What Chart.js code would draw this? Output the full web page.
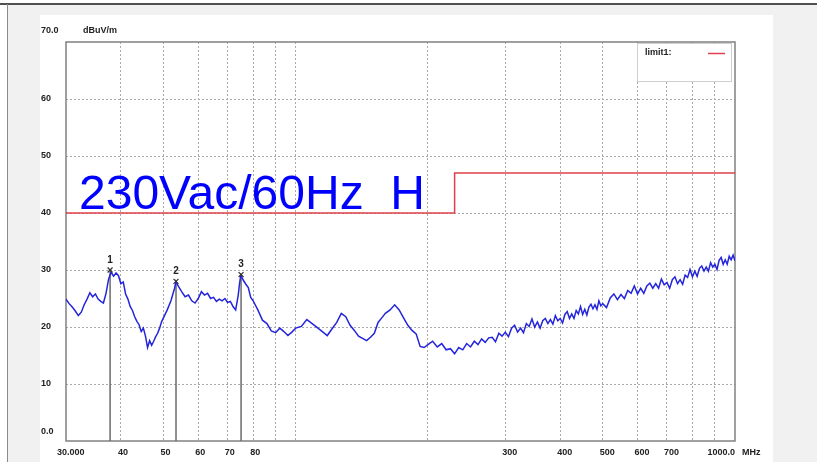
<!DOCTYPE html>
<html>
<head>
<meta charset="utf-8">
<script src="https://cdn.jsdelivr.net/npm/chart.js@4"></script>
<style>
  html, body { margin: 0; padding: 0; background: #fff; }
  #wrap { width: 817px; height: 462px; position: relative; }
  canvas { display: block; }
</style>
</head>
<body>
<div id="wrap"><canvas id="c" width="817" height="462"></canvas></div>
<script>
// Radiated emission scan, 30 MHz - 1 GHz (MHz / dBuV/m)
const freqMHz = [
  30, 30.5, 31, 31.5, 32, 32.5, 33, 33.5, 34, 34.5,
  35, 35.5, 36, 36.5, 37, 37.5, 38, 38.5, 39, 39.5,
  40, 40.5, 41, 41.5, 42, 42.5, 43, 43.5, 44, 44.5,
  45, 45.5, 46, 46.5, 47, 47.5, 48, 48.5, 49, 49.5, 50,
  51, 52, 53, 53.4, 54, 55, 56, 57, 58, 59,
  60, 61, 62, 63, 64, 65, 66, 67, 68, 69,
  70, 71, 72, 73, 74, 74.5, 75, 76, 77, 78, 79, 80,
  82, 84, 86, 88, 90, 92, 94, 96, 98, 100,
  103, 106, 109, 112, 115, 118, 121, 124, 127, 130,
  133, 136, 139, 142, 145, 148, 151, 154, 157, 160,
  164, 168, 172, 176, 180, 184, 188, 192, 196, 200,
  205, 210, 215, 220, 225, 230, 235, 240, 245, 250,
  255, 260, 265, 270, 275,
  280, 285, 290, 295, 300, 305, 310, 315, 320, 325,
  330, 335, 340, 345, 350, 355, 360, 365, 370, 375,
  380, 385, 390, 395, 400, 405, 410, 415, 420, 425,
  430, 435, 440, 445, 450, 455, 460, 465, 470, 475,
  480, 485, 490, 495, 500,
  510, 520, 530, 540, 550, 560, 570, 580, 590, 600,
  610, 620, 630, 640, 650, 660, 670, 680, 690, 700,
  710, 720, 730, 740, 750, 760, 770, 780, 790, 800,
  810, 820, 830, 840, 850, 860, 870, 880, 890, 900,
  910, 920, 930, 940, 950, 960, 970, 980, 990, 1000
];
const levelDb = [
  24.9, 24.1, 23.5, 22.8, 22.0, 22.6, 23.9, 24.9, 26.0, 25.3,
  25.8, 24.9, 24.5, 24.2, 25.9, 28.4, 29.6, 28.9, 29.5, 29.0,
  27.6, 27.9, 25.8, 24.9, 23.6, 22.9, 21.8, 21.0, 20.4, 19.2,
  19.8, 18.4, 16.4, 17.6, 16.8, 17.5, 18.3, 18.9, 19.8, 20.9, 21.6,
  23.0, 24.6, 26.8, 28.0, 27.2, 26.2, 25.3, 25.6, 24.6, 24.2,
  25.0, 26.2, 25.6, 25.9, 25.0, 25.2, 24.5, 24.9, 24.6, 25.0,
  24.3, 24.5, 23.6, 23.0, 25.6, 27.6, 29.1, 28.2, 27.5, 26.9, 25.2, 24.6,
  23.0, 21.2, 20.6, 19.3, 19.0, 19.8, 19.2, 18.5, 19.1, 19.8,
  20.1, 21.3, 20.6, 19.9, 19.2, 18.5, 19.7, 20.8, 22.4, 21.8,
  20.3, 19.4, 18.4, 18.0, 17.6, 18.2, 18.9, 20.8, 21.6, 22.4,
  23.0, 23.9, 23.0, 21.6, 20.3, 19.4, 18.8, 16.6, 16.4, 16.9,
  17.5, 16.5, 17.1, 16.0, 16.2, 15.3, 16.4, 16.0, 17.1, 16.5,
  17.5, 16.9, 17.9, 17.3, 18.1,
  18.2, 17.4, 18.9, 18.4, 19.1, 18.3, 19.8, 20.3, 19.1, 19.8,
  19.0, 20.6, 20.1, 21.4, 20.0, 20.9, 19.8, 21.1, 21.5, 20.6,
  21.3, 20.5, 22.0, 21.1, 21.5, 20.7, 22.2, 22.7, 21.5, 22.3,
  21.5, 22.9, 22.3, 23.6, 22.2, 23.1, 22.1, 23.5, 24.0, 23.2,
  23.9, 23.1, 24.6, 23.7, 24.1,
  23.4, 25.1, 25.8, 24.8, 25.7, 25.0, 26.4, 25.9, 27.2, 25.8,
  26.8, 25.9, 27.2, 27.7, 26.8, 27.6, 26.8, 28.4, 27.4, 27.8,
  26.8, 28.3, 28.8, 27.6, 28.3, 27.5, 29.1, 28.7, 30.1, 28.8,
  29.8, 28.9, 30.3, 30.7, 29.8, 30.5, 29.8, 31.3, 30.5, 31.0,
  30.1, 31.7, 32.2, 31.0, 31.8, 31.0, 32.4, 31.8, 32.6, 31.6
];

// Limit line (class B, 3 m): 40 dB below 230 MHz, 47 dB above
const limitFreq = [30, 230, 230, 1000];
const limitDb = [40, 40, 47, 47];

// Peak markers
const markerNames = ['1', '2', '3'];
const markerFreq = [37.8, 53.4, 75.1];
const markerDb = [30.0, 28.0, 29.2];

// Axis ticks
const xGridValues = [30, 40, 50, 60, 70, 80, 90, 100, 200, 300, 400, 500, 600, 700, 800, 900, 1000];
const xTickValues = [30, 40, 50, 60, 70, 80, 300, 400, 500, 600, 700, 1000];
const xTickLabels = ['30.000', '40', '50', '60', '70', '80', '300', '400', '500', '600', '700', '1000.0'];
const yTickValues = [0, 10, 20, 30, 40, 50, 60, 70];
const yTickLabels = ['0.0', '10', '20', '30', '40', '50', '60', '70.0'];

const titleText = '230Vac/60Hz  H';
const unitY = 'dBuV/m';
const unitX = 'MHz';
const legendText = 'limit1:';

const SMALL_FONT = 'bold 9px "Liberation Sans Narrow", "Liberation Sans", Arial, sans-serif';
const COL_TRACE = '#2424dc';
const COL_LIMIT = '#e0404c';

const pairs = (xs, ys) => xs.map((x, i) => ({ x, y: ys[i] }));

const stemSets = markerFreq.map((f, i) => ({
  label: 'stem' + markerNames[i],
  data: [{ x: f, y: 0 }, { x: f, y: markerDb[i] }],
  borderColor: '#6a6a6a',
  borderWidth: 1.5,
  pointRadius: 0,
  order: 3
}));

const pagePlugin = {
  id: 'page',
  beforeDraw(chart) {
    const ctx = chart.ctx;
    ctx.save();
    ctx.fillStyle = '#ffffff';
    ctx.fillRect(0, 0, 817, 462);
    ctx.fillStyle = '#f1f1f1';
    ctx.fillRect(8, 5, 809, 457);
    ctx.fillStyle = '#ffffff';
    ctx.fillRect(40, 15, 733, 447);
    ctx.strokeStyle = '#505050';
    ctx.lineWidth = 2;
    ctx.beginPath();
    ctx.moveTo(0, 4); ctx.lineTo(817, 4);
    ctx.stroke();
    ctx.strokeStyle = '#8a8a8a';
    ctx.lineWidth = 1;
    ctx.beginPath();
    ctx.moveTo(7.5, 4); ctx.lineTo(7.5, 462);
    ctx.stroke();
    ctx.restore();
  },
  beforeDatasetsDraw(chart) {
    const { ctx, chartArea: a } = chart;
    ctx.save();
    ctx.strokeStyle = '#808080';
    ctx.lineWidth = 1.5;
    ctx.strokeRect(a.left, a.top, a.right - a.left, a.bottom - a.top);
    ctx.restore();
  },
  afterDraw(chart) {
    const { ctx, chartArea: a } = chart;
    const xs = chart.scales.x, ys = chart.scales.y;
    ctx.save();
    ctx.fillStyle = '#222';
    ctx.font = SMALL_FONT;
    ctx.textBaseline = 'middle';

    // y tick labels
    ctx.textAlign = 'left';
    yTickValues.forEach((v, i) => {
      let py = ys.getPixelForValue(v);
      if (v === 70) py -= 11;
      if (v === 0) py -= 9;
      ctx.fillText(yTickLabels[i], 41, py);
    });
    ctx.fillText(unitY, 83, a.top - 11);

    // x tick labels
    const ly = a.bottom + 12;
    xTickValues.forEach((v, i) => {
      const px = xs.getPixelForValue(v);
      if (i === 0) { ctx.textAlign = 'left'; ctx.fillText(xTickLabels[i], px - 9, ly); }
      else if (i === xTickValues.length - 1) { ctx.textAlign = 'right'; ctx.fillText(xTickLabels[i], px, ly); }
      else { ctx.textAlign = 'left'; ctx.fillText(xTickLabels[i], px - 3, ly); }
    });
    ctx.textAlign = 'left';
    ctx.fillText(unitX, a.right + 7, ly);

    // marker numbers
    ctx.textAlign = 'center';
    ctx.font = 'bold 10px "Liberation Sans", Arial, sans-serif';
    markerFreq.forEach((f, i) => {
      ctx.fillText(markerNames[i], xs.getPixelForValue(f), ys.getPixelForValue(markerDb[i]) - 10);
    });

    // legend box
    ctx.fillStyle = '#ffffff';
    ctx.fillRect(637, 43, 94, 38);
    ctx.strokeStyle = '#cfcfcf';
    ctx.lineWidth = 1;
    ctx.strokeRect(637.5, 43.5, 94, 38);
    ctx.fillStyle = '#222';
    ctx.font = SMALL_FONT;
    ctx.textAlign = 'left';
    ctx.fillText(legendText, 645, 53);
    ctx.strokeStyle = COL_LIMIT;
    ctx.lineWidth = 1.5;
    ctx.beginPath();
    ctx.moveTo(708, 53.5); ctx.lineTo(725, 53.5);
    ctx.stroke();

    // title
    ctx.fillStyle = '#0000ff';
    ctx.font = '48px "Liberation Sans", Arial, sans-serif';
    ctx.textBaseline = 'alphabetic';
    ctx.textAlign = 'left';
    ctx.fillText(titleText, 79, 209);
    ctx.restore();
  }
};

const gridColor = (edgeA, edgeB) => (c) =>
  (c.tick && (c.tick.value === edgeA || c.tick.value === edgeB)) ? 'rgba(0,0,0,0)' : '#a9a9a9';

new Chart(document.getElementById('c'), {
  type: 'line',
  data: {
    datasets: [
      {
        label: 'markers',
        data: pairs(markerFreq, markerDb),
        showLine: false,
        pointStyle: 'crossRot',
        pointRadius: 3.5,
        borderColor: '#333',
        borderWidth: 1.2,
        order: 0
      },
      {
        label: 'level',
        data: pairs(freqMHz, levelDb),
        borderColor: COL_TRACE,
        borderWidth: 1.5,
        pointRadius: 0,
        tension: 0,
        order: 1
      },
      {
        label: 'limit1',
        data: pairs(limitFreq, limitDb),
        borderColor: COL_LIMIT,
        borderWidth: 1.5,
        pointRadius: 0,
        order: 2
      },
      ...stemSets
    ]
  },
  options: {
    responsive: false,
    animation: false,
    devicePixelRatio: 1,
    layout: { padding: { left: 66, right: 82, top: 42, bottom: 21 } },
    plugins: { legend: { display: false }, tooltip: { enabled: false } },
    scales: {
      x: {
        type: 'logarithmic',
        min: 30,
        max: 1000,
        afterBuildTicks: (s) => { s.ticks = xGridValues.map(v => ({ value: v })); },
        afterFit: (s) => { s.height = 0; },
        ticks: { display: false },
        grid: { color: gridColor(30, 1000), lineWidth: 1, drawTicks: false },
        border: { display: false, dash: [2, 2] }
      },
      y: {
        type: 'linear',
        min: 0,
        max: 70,
        afterBuildTicks: (s) => { s.ticks = yTickValues.map(v => ({ value: v })); },
        afterFit: (s) => { s.width = 0; },
        ticks: { display: false },
        grid: { color: gridColor(0, 70), lineWidth: 1, drawTicks: false },
        border: { display: false, dash: [2, 2] }
      }
    }
  },
  plugins: [pagePlugin]
});
</script>
</body>
</html>
